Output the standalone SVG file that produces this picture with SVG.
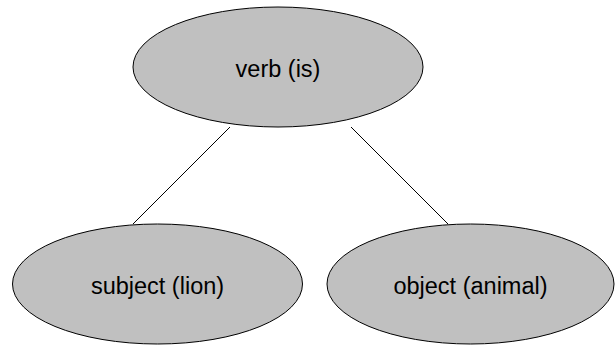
<svg xmlns="http://www.w3.org/2000/svg" width="616" height="347" viewBox="0 0 616 347">
<style>
.node ellipse{fill:#c0c0c0;stroke:#000;stroke-width:1}
.node text{font-family:"Liberation Sans",Arial,sans-serif;font-size:23.5px;fill:#000;text-anchor:middle}
.edge{stroke:#000;stroke-width:1;fill:none}
</style>
<rect width="616" height="347" fill="#fff"/>
<g id="connectors">
<line class="edge" x1="230" y1="127" x2="133" y2="224"/>
<line class="edge" x1="351" y1="127" x2="448" y2="224"/>
</g>
<g id="verb" class="node">
<ellipse cx="278" cy="67" rx="145" ry="60"/>
<text x="278" y="77">verb (is)</text>
</g>
<g id="subject" class="node">
<ellipse cx="157.5" cy="284" rx="145" ry="60"/>
<text x="157.5" y="294">subject (lion)</text>
</g>
<g id="object" class="node">
<ellipse cx="470.5" cy="284" rx="143.5" ry="60"/>
<text x="470.5" y="294">object (animal)</text>
</g>
</svg>
